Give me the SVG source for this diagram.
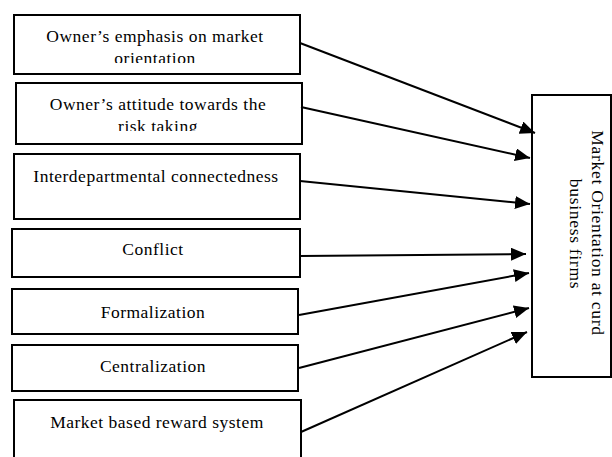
<svg xmlns="http://www.w3.org/2000/svg" width="612" height="457" viewBox="0 0 612 457">
<style>
.box{fill:#fff;stroke:#000;stroke-width:2}
.t{font-family:"Liberation Serif","Times New Roman",serif;font-size:17.5px;letter-spacing:0.5px;fill:#000;text-anchor:middle}
.r{letter-spacing:0.7px}
.c{stroke:#000;stroke-width:2;fill:none;marker-end:url(#ah)}
</style>
<defs>
<marker id="ah" markerUnits="userSpaceOnUse" markerWidth="16" markerHeight="14" refX="15" refY="6.5" orient="auto">
<path d="M0,0 L15,6.5 L0,13 z" fill="#000"/>
</marker>
<clipPath id="cl1"><rect x="14" y="15" width="286" height="48"/></clipPath>
<clipPath id="cl2"><rect x="15" y="83" width="287" height="48"/></clipPath>
</defs>
<rect width="612" height="457" fill="#fff"/>
<g id="n1">
<rect class="box" x="14" y="15" width="286" height="59"/>
<g clip-path="url(#cl1)">
<text class="t" x="155" y="41.5">Owner’s emphasis on market</text>
<text class="t" x="155" y="63.5">orientation</text>
</g>
</g>
<g id="n2">
<rect class="box" x="16" y="83" width="286" height="61"/>
<g clip-path="url(#cl2)">
<text class="t" x="158" y="110">Owner’s attitude towards the</text>
<text class="t" x="158" y="132">risk taking</text>
</g>
</g>
<g id="n3">
<rect class="box" x="14" y="154" width="286" height="65"/>
<text class="t" x="156" y="181.5">Interdepartmental connectedness</text>
</g>
<g id="n4">
<rect class="box" x="12" y="229" width="288" height="48"/>
<text class="t" x="153" y="255">Conflict</text>
</g>
<g id="n5">
<rect class="box" x="12" y="289" width="286" height="45"/>
<text class="t" x="153" y="318">Formalization</text>
</g>
<g id="n6">
<rect class="box" x="12" y="345" width="286" height="46"/>
<text class="t" x="153" y="371.5">Centralization</text>
</g>
<g id="n7">
<rect class="box" x="14" y="400" width="287" height="70"/>
<text class="t" x="157" y="428">Market based reward system</text>
</g>
<g id="target">
<rect class="box" x="532" y="95" width="79" height="282"/>
<text class="t r" transform="translate(592,233) rotate(90)">Market Orientation at curd</text>
<text class="t r" transform="translate(570,234) rotate(90)">business firms</text>
</g>
<g id="connectors">
<line class="c" x1="300" y1="43" x2="535" y2="133"/>
<line class="c" x1="301" y1="107" x2="530" y2="158"/>
<line class="c" x1="300" y1="181" x2="530" y2="204"/>
<line class="c" x1="300" y1="256" x2="526" y2="254"/>
<line class="c" x1="299" y1="315" x2="529" y2="273"/>
<line class="c" x1="299" y1="368" x2="529" y2="308"/>
<line class="c" x1="301" y1="432" x2="527" y2="332"/>
</g>
</svg>
